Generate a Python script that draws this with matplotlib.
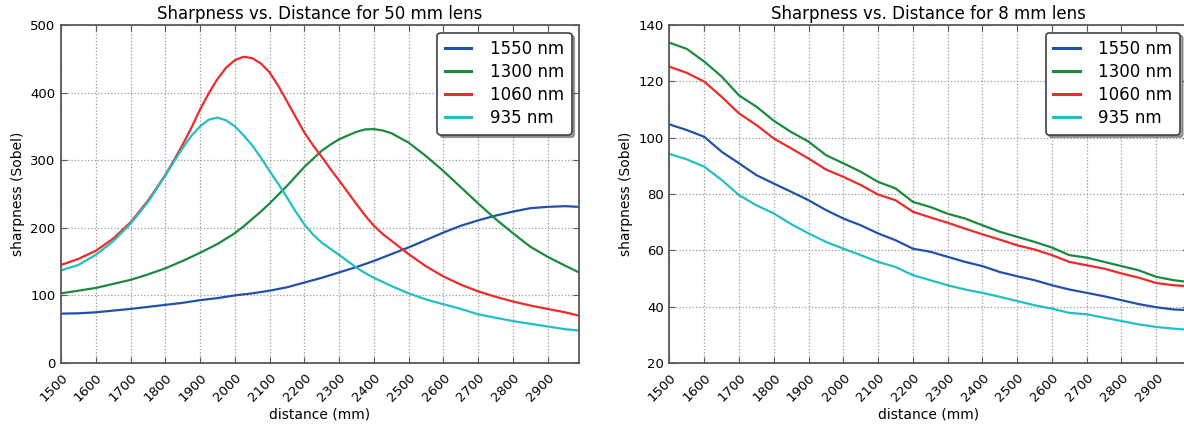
import matplotlib
matplotlib.use("Agg")
import matplotlib.pyplot as plt

labels = ["1550 nm", "1300 nm", "1060 nm", "935 nm"]
colors = ["#2251a8", "#1b8a3e", "#ee2a2a", "#22bfc3"]

# 50 mm lens (denser readings around the peaks)
distance50 = [1500, 1550, 1600, 1650, 1700, 1750, 1800, 1825, 1850, 1875,
              1900, 1925, 1950, 1975, 2000, 2025, 2050, 2075, 2100, 2125,
              2150, 2175, 2200, 2225, 2250, 2275, 2300, 2350, 2375, 2400,
              2425, 2450, 2500, 2550, 2600, 2650, 2700, 2750, 2800, 2850,
              2900, 2950, 2990]
lens50_1550 = [73, 73.5, 75, 77.5, 80, 83, 86, 87.5, 89, 91,
               93, 94.5, 96, 98, 100, 101.5, 103, 105, 107, 109.5,
               112, 115.5, 119, 122.5, 126, 130, 134, 142, 146.5, 151,
               156, 161, 171, 182, 193, 203, 211, 218, 224, 229,
               231, 232, 231]
lens50_1300 = [103, 107, 111, 117, 123, 131, 140, 145.5, 151, 157,
               163, 169.5, 176, 184, 192, 202, 213, 224, 236, 249,
               262, 276, 290, 302, 314, 323, 331, 342, 345.5, 346,
               344, 340, 326, 306, 284, 260, 236, 213, 192, 172,
               157, 144, 134]
lens50_1060 = [145, 154, 166, 184, 208, 240, 278, 300, 323, 348,
               375, 399, 420, 437, 448, 453, 451, 443, 430, 410,
               387, 364, 341, 322, 305, 287, 270, 235, 218, 203,
               191, 181, 161, 143, 128, 116, 106, 98, 91, 85,
               80, 75, 70]
lens50_935 = [137, 145, 160, 180, 206, 238, 277, 298, 318, 336,
              350, 360, 363, 359, 350, 337, 322, 304, 284, 265,
              245, 224, 205, 190, 178, 169, 160, 141, 133, 126,
              120, 114, 103, 94, 87, 80, 72, 67, 62, 58,
              54, 50, 48]

# 8 mm lens
distance8 = [1500, 1550, 1600, 1650, 1700, 1750, 1800, 1850, 1900, 1950,
             2000, 2050, 2100, 2150, 2200, 2250, 2300, 2350, 2400, 2450,
             2500, 2550, 2600, 2650, 2700, 2750, 2800, 2850, 2900, 2950, 2990]
lens8_1550 = [104.7, 102.7, 100.3, 95, 90.9, 86.7, 83.7, 80.8, 77.8, 74.3,
              71.3, 68.9, 66, 63.6, 60.6, 59.5, 57.7, 55.9, 54.4, 52.3,
              50.8, 49.4, 47.6, 46.1, 44.9, 43.7, 42.3, 40.9, 39.8, 39.0, 38.8]
lens8_1300 = [133.7, 131.5, 127, 121.7, 115, 111, 106, 102, 98.6, 93.8,
              90.9, 87.9, 84.3, 82, 77.2, 75.4, 73, 71.3, 68.9, 66.6,
              64.8, 63, 61, 58.3, 57.4, 55.9, 54.4, 52.9, 50.6, 49.4, 48.8]
lens8_1060 = [125.2, 123, 119.9, 114.5, 108.6, 104.5, 99.7, 96.2, 92.6, 88.7,
              86.1, 83.2, 79.8, 77.8, 73.7, 71.7, 69.8, 67.7, 65.7, 63.8,
              61.8, 60.3, 58.3, 55.9, 54.7, 53.5, 51.8, 50.3, 48.4, 47.6, 47.3]
lens8_935 = [94.2, 92.3, 89.7, 85, 79.6, 76, 73.1, 69.3, 66, 63,
             60.6, 58.3, 55.9, 54.1, 51.2, 49.4, 47.6, 46.1, 44.9, 43.5,
             42, 40.5, 39.3, 37.8, 37.3, 36.1, 34.9, 33.7, 32.8, 32.2, 31.8]

xticks = list(range(1500, 3000, 100))

plt.rcParams["font.family"] = "DejaVu Sans"

fig = plt.figure(figsize=(11.84, 4.25), dpi=100)
ax1 = fig.add_axes([61 / 1184, 62 / 425, 518 / 1184, 338 / 425])
ax2 = fig.add_axes([669.5 / 1184, 62 / 425, 518 / 1184, 338 / 425])


def style_axis(ax, x, series, title, ylim, yticks):
    for s, lab, c in zip(series, labels, colors):
        ax.plot(x, s, color=c, lw=1.6, label=lab)
    ax.set_xlim(1500, 2990)
    ax.set_ylim(*ylim)
    ax.set_xticks(xticks)
    ax.set_xticklabels([str(t) for t in xticks], rotation=45, ha="right",
                       rotation_mode="anchor")
    ax.set_yticks(yticks)
    ax.tick_params(direction="in", top=True, right=True, labelsize=9.5,
                   length=4, color="0.35", pad=4)
    ax.tick_params(axis="x", pad=6)
    for sp in ax.spines.values():
        sp.set_color("0.35")
        sp.set_linewidth(1.3)
    ax.grid(True, linestyle=":", color="0.6", lw=0.9)
    ax.set_title(title, fontsize=12, pad=4)
    ax.set_xlabel("distance (mm)", fontsize=10, labelpad=2)
    ax.set_ylabel("sharpness (Sobel)", fontsize=10)
    leg = ax.legend(loc="upper right", fontsize=12, handlelength=1.6,
                    handletextpad=1.1, labelspacing=0.3, borderpad=0.45,
                    fancybox=True, shadow=True, framealpha=1,
                    borderaxespad=0.45)
    leg.get_frame().set_edgecolor("0.25")
    leg.get_frame().set_linewidth(1.2)
    for ln in leg.get_lines():
        ln.set_linewidth(2.2)


style_axis(ax1, distance50, [lens50_1550, lens50_1300, lens50_1060, lens50_935],
           "Sharpness vs. Distance for 50 mm lens", (0, 500),
           [0, 100, 200, 300, 400, 500])
style_axis(ax2, distance8, [lens8_1550, lens8_1300, lens8_1060, lens8_935],
           "Sharpness vs. Distance for 8 mm lens", (20, 140),
           [20, 40, 60, 80, 100, 120, 140])

fig.savefig("out.png", dpi=100)
